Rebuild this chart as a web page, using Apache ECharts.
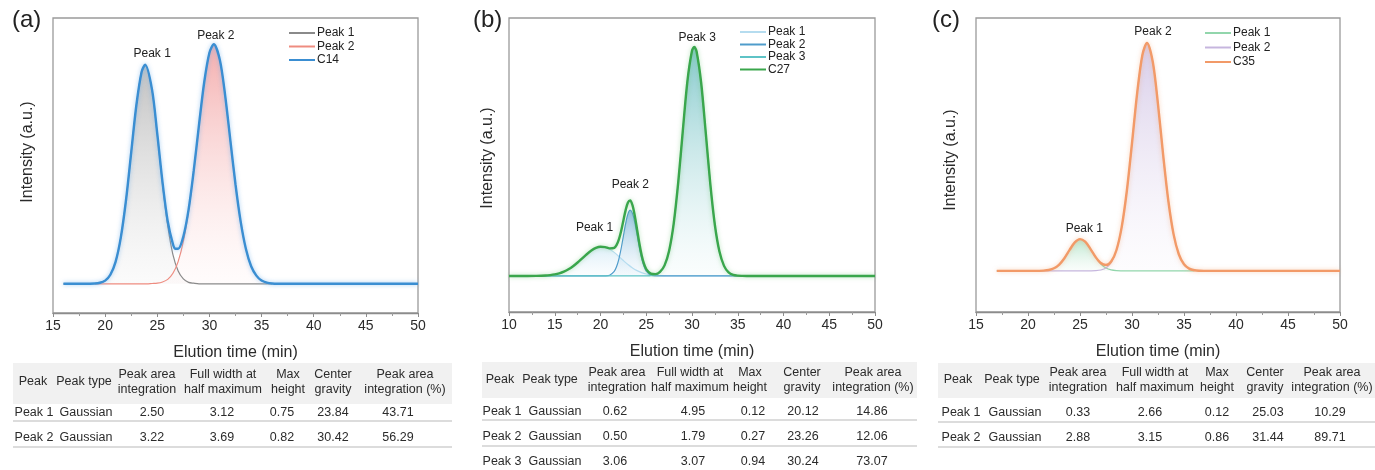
<!DOCTYPE html>
<html>
<head>
<meta charset="utf-8">
<script src="https://cdn.jsdelivr.net/npm/echarts@6/dist/echarts.min.js"></script>
<style>
html,body{margin:0;padding:0;background:#fff;width:1375px;height:470px;overflow:hidden;}
.panel{position:absolute;top:0;height:470px;}
</style>
</head>
<body>
<div id="pa" class="panel" style="left:0;width:460px;"></div>
<div id="pb" class="panel" style="left:460px;width:458px;"></div>
<div id="pc" class="panel" style="left:918px;width:457px;"></div>
<script>
// ---------------- DATA ----------------
// Panel (a) : C14
const a_peak1 = [[16,0],[18,0],[19,0.001],[19.5,0.0035],[20,0.011],[20.5,0.031],[21,0.075],[21.5,0.158],[22,0.286],[22.5,0.450],[23,0.613],[23.5,0.726],[23.84,0.75],[24.5,0.663],[25,0.511],[25.5,0.342],[26,0.199],[26.5,0.100],[27,0.044],[27.5,0.017],[28,0.005],[28.5,0.002],[29,0],[36,0]];
const a_peak2 = [[19,0],[24,0],[24.5,0.001],[25,0.002],[25.5,0.006],[26,0.015],[26.5,0.036],[27,0.076],[27.5,0.145],[28,0.249],[28.5,0.387],[29,0.544],[29.5,0.690],[30,0.791],[30.42,0.82],[31,0.766],[31.5,0.647],[32,0.493],[32.5,0.340],[33,0.212],[33.5,0.119],[34,0.060],[34.5,0.028],[35,0.011],[35.5,0.004],[36,0.001],[36.5,0]];
const a_c14 = [[16,0],[18,0],[19,0.001],[19.5,0.0035],[20,0.011],[20.5,0.031],[21,0.075],[21.5,0.158],[22,0.286],[22.5,0.450],[23,0.613],[23.5,0.726],[23.84,0.75],[24.5,0.664],[25,0.513],[25.5,0.348],[26,0.214],[26.5,0.136],[26.75,0.120],[27,0.120],[27.5,0.162],[28,0.254],[28.5,0.389],[29,0.544],[29.5,0.690],[30,0.791],[30.42,0.82],[31,0.766],[31.5,0.647],[32,0.493],[32.5,0.340],[33,0.212],[33.5,0.119],[34,0.060],[34.5,0.028],[35,0.011],[35.5,0.004],[36,0.001],[36.5,0],[50,0]];
const a_labels = [['Peak 1',23.84,0.75],['Peak 2',30.42,0.82]];
const a_tableRows = [
  ['Peak 1','Gaussian','2.50','3.12','0.75','23.84','43.71'],
  ['Peak 2','Gaussian','3.22','3.69','0.82','30.42','56.29']
];

// Panel (b) : C27
const b_peak1 = [[10,0],[12,0],[13,0.0004],[14,0.0017],[14.5,0.0034],[15,0.0062],[15.5,0.0107],[16,0.0176],[16.5,0.0272],[17,0.0399],[17.5,0.0552],[18,0.0722],[18.5,0.0892],[19,0.1041],[19.5,0.1149],[20,0.1198],[20.5,0.1181],[21,0.1099],[21.5,0.0967],[22,0.0804],[22.5,0.0632],[23,0.0469],[23.5,0.0329],[24,0.0218],[24.5,0.0137],[25,0.0081],[25.5,0.0045],[26,0.0024],[26.5,0.0012],[27,0.0006],[28,0],[50,0]];
const b_peak2 = [[10,0],[20,0],[20.5,0.0004],[21,0.0032],[21.5,0.0185],[21.75,0.0375],[22,0.0683],[22.25,0.1117],[22.5,0.1638],[22.75,0.2155],[23,0.2547],[23.25,0.27],[23.5,0.2569],[23.75,0.2193],[24,0.1681],[24.25,0.1156],[24.5,0.0713],[24.75,0.0395],[25,0.0196],[25.5,0.0035],[26,0.0004],[26.5,0],[50,0]];
const b_peak3 = [[10,0],[24.5,0],[25,0.0003],[25.5,0.0013],[26,0.0047],[26.5,0.0154],[27,0.0429],[27.5,0.1034],[28,0.2149],[28.5,0.3858],[29,0.598],[29.5,0.8001],[30,0.9242],[30.25,0.94],[30.5,0.9215],[31,0.7932],[31.5,0.5894],[32,0.3779],[32.5,0.2093],[33,0.1],[33.5,0.0413],[34,0.0147],[34.5,0.0045],[35,0.0012],[35.5,0.0003],[36,0],[50,0]];
const b_c27 = [[10,0],[12,0],[13,0.0004],[14,0.0017],[14.5,0.0034],[15,0.0062],[15.5,0.0107],[16,0.0176],[16.5,0.0272],[17,0.0399],[17.5,0.0552],[18,0.0722],[18.5,0.0892],[19,0.1041],[19.5,0.1149],[20,0.1198],[20.5,0.1185],[21,0.1131],[21.5,0.1152],[21.75,0.1263],[22,0.1487],[22.25,0.1835],[22.5,0.227],[22.75,0.2704],[23,0.3016],[23.25,0.3096],[23.5,0.2898],[23.75,0.2463],[24,0.1899],[24.25,0.133],[24.5,0.085],[24.75,0.0501],[25,0.028],[25.5,0.0093],[26,0.0075],[26.5,0.0166],[27,0.0435],[27.5,0.1036],[28,0.2149],[28.5,0.3858],[29,0.598],[29.5,0.8001],[30,0.9242],[30.25,0.94],[30.5,0.9215],[31,0.7932],[31.5,0.5894],[32,0.3779],[32.5,0.2093],[33,0.1],[33.5,0.0413],[34,0.0147],[34.5,0.0045],[35,0.0012],[35.5,0.0003],[36,0],[50,0]];
const b_labels = [['Peak 1',20.12,0.1198],['Peak 2',23.26,0.3096],['Peak 3',30.24,0.94]];
const b_tableRows = [
  ['Peak 1','Gaussian','0.62','4.95','0.12','20.12','14.86'],
  ['Peak 2','Gaussian','0.50','1.79','0.27','23.26','12.06'],
  ['Peak 3','Gaussian','3.06','3.07','0.94','30.24','73.07']
];

// Panel (c) : C35
const c_peak1 = [[17,0],[20.5,0],[21,0.0002],[21.5,0.0009],[22,0.0033],[22.5,0.0098],[23,0.0239],[23.5,0.048],[24,0.0792],[24.5,0.1075],[25,0.12],[25.5,0.11],[26,0.083],[26.5,0.0515],[27,0.0262],[27.5,0.011],[28,0.0038],[28.5,0.0011],[29,0.0003],[29.5,0],[36,0]];
const c_peak2 = [[17,0],[25.5,0],[26,0.0002],[26.5,0.0009],[27,0.0035],[27.5,0.0112],[28,0.0315],[28.5,0.0769],[29,0.163],[29.5,0.3005],[30,0.4818],[30.5,0.6718],[31,0.8147],[31.44,0.86],[32,0.7878],[32.5,0.6283],[33,0.4357],[33.5,0.2627],[34,0.1378],[34.5,0.0629],[35,0.0249],[35.5,0.0086],[36,0.0026],[36.5,0.0007],[37,0.0002],[37.5,0],[50,0]];
const c_c35 = [[17,0],[20.5,0],[21,0.0002],[21.5,0.0009],[22,0.0033],[22.5,0.0098],[23,0.0239],[23.5,0.048],[24,0.0792],[24.5,0.1075],[25,0.12],[25.5,0.11],[26,0.0832],[26.5,0.0524],[27,0.0297],[27.5,0.0222],[28,0.0353],[28.5,0.078],[29,0.1633],[29.5,0.3005],[30,0.4818],[30.5,0.6718],[31,0.8147],[31.44,0.86],[32,0.7878],[32.5,0.6283],[33,0.4357],[33.5,0.2627],[34,0.1378],[34.5,0.0629],[35,0.0249],[35.5,0.0086],[36,0.0026],[36.5,0.0007],[37,0.0002],[37.5,0],[50,0]];
const c_labels = [['Peak 1',25.03,0.12],['Peak 2',31.44,0.86]];
const c_tableRows = [
  ['Peak 1','Gaussian','0.33','2.66','0.12','25.03','10.29'],
  ['Peak 2','Gaussian','2.88','3.15','0.86','31.44','89.71']
];

const tableHeaders = ['Peak','Peak type','Peak area\nintegration','Full width at\nhalf maximum','Max\nheight','Center\ngravity','Peak area\nintegration (%)'];

// ---------------- RENDER ----------------
const FONT = '"Liberation Sans", Arial, Helvetica, sans-serif';
const TXT = '#2b2b2b';
function grad(top, bottom){
  return new echarts.graphic.LinearGradient(0,0,0,1,[{offset:0,color:top},{offset:1,color:bottom}]);
}

function build(cfg){
  const chart = echarts.init(document.getElementById(cfg.el), null, {renderer:'canvas'});
  const series = cfg.comps.map(c => ({
    name:c.name, type:'line', data:c.data, smooth:0.3, symbol:'none', showSymbol:false,
    lineStyle:{color:c.line, width:c.lw||1.2}, itemStyle:{color:c.line},
    areaStyle:{color:grad(c.fillTop,c.fillBottom), origin:'auto'},
    z:2, silent:true, animation:false
  }));
  series.push({
    name:cfg.total.name, type:'line', data:cfg.total.data, smooth:0.3, symbol:'none', showSymbol:false,
    lineStyle:{color:cfg.total.color, width:2.4, shadowColor:cfg.total.glow, shadowBlur:4},
    itemStyle:{color:cfg.total.color}, z:5, animation:false, silent:true,
    markPoint:{
      symbol:'circle', symbolSize:1, itemStyle:{color:'rgba(0,0,0,0)'}, animation:false, silent:true,
      data: cfg.labels.map((l,i) => ({name:l[0], coord:[l[1],l[2]],
        label:{show:true, position:'top', formatter:'{b}', distance:cfg.labelLayout[i][1], offset:[cfg.labelLayout[i][0],0],
          color:'#222', fontSize:12, fontFamily:FONT}}))
    }
  });

  const g = [];
  g.push({type:'text', left:cfg.letterX, top:8, style:{text:cfg.letter, fontSize:24, fontFamily:FONT, fill:'#222'}});
  g.push({type:'text', x:cfg.yNameX, y:cfg.yNameY, rotation:Math.PI/2,
    style:{text:'Intensity (a.u.)', fontSize:16, fontFamily:FONT, fill:TXT, align:'center', verticalAlign:'middle'}});
  const T = cfg.table;
  g.push({type:'rect', shape:{x:T.x0, y:T.hTop, width:T.x1-T.x0, height:T.hBot-T.hTop}, style:{fill:'#f1f1f1'}, silent:true});
  tableHeaders.forEach((h,i) => {
    g.push({type:'text', x:T.hx[i], y:T.hMid, silent:true,
      style:{text:h, fontSize:12.5, fontFamily:FONT, fill:TXT, align:'center', verticalAlign:'middle', lineHeight:15}});
  });
  cfg.rows.forEach((r,ri) => {
    r.forEach((v,ci) => {
      g.push({type:'text', x:T.vx[ci], y:T.rowY[ri], silent:true,
        style:{text:v, fontSize:12.5, fontFamily:FONT, fill:TXT, align:'center', verticalAlign:'middle'}});
    });
  });
  T.lineY.forEach(y => {
    g.push({type:'line', shape:{x1:T.x0, y1:y, x2:T.x1, y2:y}, style:{stroke:'#dcdcdc', lineWidth:2}, silent:true});
  });

  const legendData = series.map((s,i) => ({name:s.name, icon:'rect',
    itemStyle:{color:(i === series.length-1) ? cfg.total.color : cfg.comps[i].line}}));

  const option = {
    animation:false,
    backgroundColor:'#fff',
    textStyle:{fontFamily:FONT},
    grid:{left:cfg.grid.left, top:18, width:cfg.grid.width, height:cfg.grid.height, show:true, borderColor:'#9a9a9a', borderWidth:1.3, backgroundColor:'transparent'},
    legend:{
      orient:'vertical', left:cfg.legend.left, top:cfg.legend.top, padding:0, itemGap:cfg.legend.gap,
      itemWidth:26, itemHeight:2, selectedMode:false,
      textStyle:{fontSize:12, fontFamily:FONT, color:'#222', padding:[0,0,0,-3]},
      data: legendData
    },
    xAxis:{
      type:'value', min:cfg.xmin, max:50, interval:5,
      name:'Elution time (min)', nameLocation:'middle', nameGap:32,
      nameTextStyle:{fontSize:16, color:TXT, fontFamily:FONT},
      axisLine:{show:true, onZero:false, lineStyle:{color:'#8c8c8c', width:1.3}},
      axisTick:{show:true, inside:false, length:4, lineStyle:{color:'#8c8c8c'}},
      minorTick:{show:true, splitNumber:2, length:3, lineStyle:{color:'#9a9a9a'}},
      axisLabel:{fontSize:14, color:TXT, margin:6, fontFamily:FONT},
      splitLine:{show:false}
    },
    yAxis:{
      type:'value', min:cfg.ymin, max:cfg.ymax,
      axisLine:{show:false}, axisTick:{show:false}, axisLabel:{show:false}, splitLine:{show:false}
    },
    graphic:g,
    series:series
  };
  chart.setOption(option);
}

build({
  el:'pa', letter:'(a)', letterX:12, yNameX:28, yNameY:152,
  grid:{left:53, width:365, height:295}, xmin:15, ymin:-0.1, ymax:0.91,
  legend:{left:289, top:27, gap:1.5},
  comps:[
    {name:'Peak 1', data:a_peak1, line:'#8a8a8a', fillTop:'rgba(150,150,150,0.85)', fillBottom:'rgba(238,238,238,0.35)'},
    {name:'Peak 2', data:a_peak2, line:'#ee8c80', fillTop:'rgba(236,120,120,0.85)', fillBottom:'rgba(255,240,240,0.3)'}
  ],
  total:{name:'C14', data:a_c14, color:'#3a8ed2', glow:'rgba(120,180,235,0.7)'},
  labels:a_labels, labelLayout:[[7,5],[2,2]],
  rows:a_tableRows,
  table:{x0:13, x1:452, hTop:363, hBot:404, hMid:382,
    hx:[33,84,147,223,288,333,405], vx:[34,86,152,222,282,333,398],
    rowY:[413,438], lineY:[421,447]}
});

build({
  el:'pb', letter:'(b)', letterX:13, yNameX:28, yNameY:158,
  grid:{left:49, width:366, height:294}, xmin:10, ymin:-0.148, ymax:1.059,
  legend:{left:280, top:26, gap:0.5},
  comps:[
    {name:'Peak 1', data:b_peak1, line:'#b5dcef', fillTop:'rgba(170,215,238,0.6)', fillBottom:'rgba(235,246,252,0.3)'},
    {name:'Peak 2', data:b_peak2, line:'#4f9ccb', fillTop:'rgba(60,145,200,0.8)', fillBottom:'rgba(220,236,246,0.3)'},
    {name:'Peak 3', data:b_peak3, line:'#5ec3c6', fillTop:'rgba(50,165,170,0.85)', fillBottom:'rgba(232,246,246,0.3)'}
  ],
  total:{name:'C27', data:b_c27, color:'#3aa64c', glow:'rgba(110,200,120,0.5)'},
  labels:b_labels, labelLayout:[[-7,13],[0,9],[3,3]],
  rows:b_tableRows,
  table:{x0:22, x1:457, hTop:362, hBot:398, hMid:380,
    hx:[40,90,157,230,290,342,413], vx:[42,95,155,233,293,343,412],
    rowY:[412,437,462], lineY:[420,446]}
});

build({
  el:'pc', letter:'(c)', letterX:14, yNameX:33, yNameY:160,
  grid:{left:58, width:364, height:294}, xmin:15, ymin:-0.155, ymax:0.954,
  legend:{left:287, top:27, gap:2.5},
  comps:[
    {name:'Peak 1', data:c_peak1, line:'#92d6ac', fillTop:'rgba(130,210,165,0.8)', fillBottom:'rgba(230,246,236,0.3)'},
    {name:'Peak 2', data:c_peak2, line:'#c6b6de', fillTop:'rgba(185,165,215,0.8)', fillBottom:'rgba(246,242,250,0.3)'}
  ],
  total:{name:'C35', data:c_c35, color:'#f29a68', glow:'rgba(245,170,120,0.5)'},
  labels:c_labels, labelLayout:[[4,4],[6,5]],
  rows:c_tableRows,
  table:{x0:20, x1:457, hTop:363, hBot:398, hMid:380,
    hx:[40,94,160,237,299,347,414], vx:[43,97,160,232,299,350,412],
    rowY:[413,438], lineY:[422,447]}
});
</script>
</body>
</html>
